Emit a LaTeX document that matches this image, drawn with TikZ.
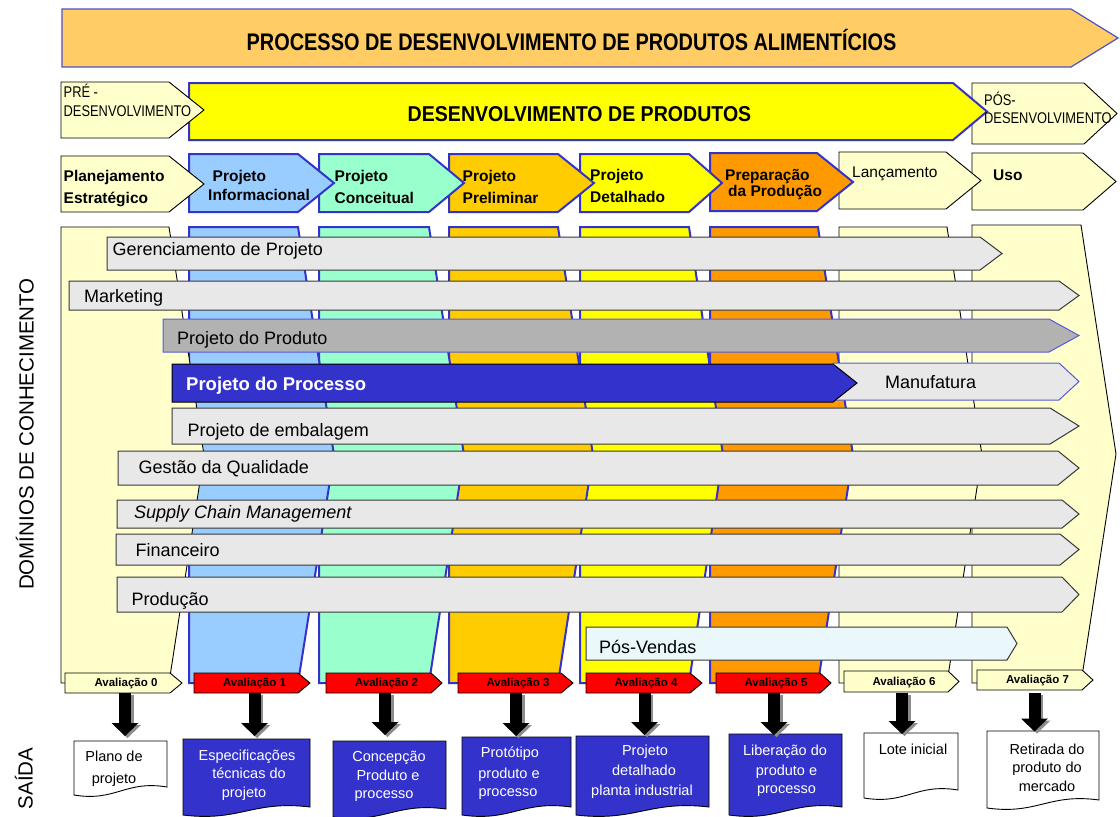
\documentclass[tikz,border=0pt]{standalone}
\usepackage{fontspec}
\setmainfont{Liberation Sans}
\newfontfamily\narrowA[FakeStretch=0.83]{Liberation Sans}
\newfontfamily\narrowB[FakeStretch=0.91]{Liberation Sans}
\usetikzlibrary{arrows.meta}

\definecolor{banner}{HTML}{FFCC66}
\definecolor{bannerbd}{HTML}{5050C8}
\definecolor{pale}{HTML}{FFFFCC}
\definecolor{yel}{HTML}{FFFF00}
\definecolor{sky}{HTML}{99CCFF}
\definecolor{mint}{HTML}{99FFCC}
\definecolor{gold}{HTML}{FFCC00}
\definecolor{orng}{HTML}{FF9900}
\definecolor{bord}{HTML}{3333CC}
\definecolor{barfill}{HTML}{E8E8E8}
\definecolor{prodgray}{HTML}{B2B2B2}
\definecolor{posv}{HTML}{EAF8FC}
\definecolor{bluelite}{HTML}{5858DD}
\definecolor{redtag}{HTML}{FF0000}
\definecolor{bardraw}{HTML}{383838}

% pentagon arrow: style, x left, y top, x body end, x tip, y bottom
\newcommand\penta[6]{\filldraw[#1] (#2,#3) -- (#4,#3) -- (#5,{(#3+#6)/2}) -- (#4,#6) -- (#2,#6) -- cycle;}
% document shape with wavy bottom: style, x left, x right, y top, y bottom (left end)
\newcommand\docshape[5]{\filldraw[#1] (#2,#4) -- (#3,#4) -- (#3,{#5-8}) .. controls ({#2+0.55*(#3-#2)},{#5-15}) and ({#2+0.45*(#3-#2)},{#5+7}) .. (#2,#5) -- cycle;}

\tikzset{
  thinbk/.style={draw=black, line width=0.9pt, line join=miter},
  bluebd/.style={draw=bord, line width=2pt, line join=miter},
  graybar/.style={fill=barfill, draw=bardraw, line width=1pt},
  redbox/.style={fill=redtag, draw=black, line width=0.9pt},
  lab/.style={inner sep=0pt, anchor=base west},
  clab/.style={inner sep=0pt, anchor=base},
  phase/.style={lab, font=\bfseries\fontsize{15.5}{18}\selectfont},
  dom/.style={lab, font=\fontsize{18}{21}\selectfont},
  evalt/.style={clab, font=\bfseries\fontsize{11.5}{13}\selectfont},
  doct/.style={clab, font=\fontsize{14.5}{17}\selectfont},
  side/.style={inner sep=0pt, anchor=base, rotate=90, font=\fontsize{20.5}{24}\selectfont},
  blockarrow/.style={line width=12pt, -{Triangle[width=27pt,length=13pt,line width=0pt]}},
}

\begin{document}
\begin{tikzpicture}[x=1pt, y=-1pt]
\useasboundingbox (0,0) rectangle (1120,817);

% ---- overall banner ----
\penta{fill=banner, draw=bannerbd, line width=1.2pt}{62}{9}{1071}{1118}{67}
\node[clab, font=\narrowA\bfseries\fontsize{24}{28}\selectfont] (title) at (571.5,50) {PROCESSO DE DESENVOLVIMENTO DE PRODUTOS ALIMENTÍCIOS};

% ---- macro phases ----
\penta{fill=pale, thinbk}{972}{83}{1084}{1117}{144}
\penta{fill=yel, bluebd}{189}{83}{953}{987}{140}
\penta{fill=pale, thinbk}{61}{82}{169}{204}{138}
\node[clab, font=\narrowB\bfseries\fontsize{21.5}{25}\selectfont] (dev) at (579.5,121.5) {DESENVOLVIMENTO DE PRODUTOS};
\node[lab, font=\narrowA\fontsize{15.5}{18}\selectfont] (pre1) at (63.5,97.5) {PRÉ -};
\node[lab, font=\narrowA\fontsize{15.5}{18}\selectfont] (pre2) at (63.5,116) {DESENVOLVIMENTO};
\node[lab, font=\narrowA\fontsize{15.5}{18}\selectfont] (pos1) at (984,105) {PÓS-};
\node[lab, font=\narrowA\fontsize{15.5}{18}\selectfont] (pos2) at (984,123) {DESENVOLVIMENTO};

% ---- phases (drawn right to left so each tip overlaps the next box) ----
\penta{fill=pale, thinbk}{972}{153}{1083}{1116}{210}
\penta{fill=pale, thinbk}{839}{152}{946}{981}{209}
\penta{fill=orng, bluebd}{710}{153}{817}{853}{211}
\penta{fill=yel, bluebd}{580}{154}{689}{722}{212}
\penta{fill=gold, bluebd}{449}{154}{558}{594}{212}
\penta{fill=mint, bluebd}{319}{154}{429}{464}{212}
\penta{fill=sky, bluebd}{189}{154}{298}{334}{212}
\penta{fill=pale, thinbk}{61}{156}{169}{204}{212}

\node[phase] (p0a) at (63.5,181) {Planejamento};
\node[phase] (p0b) at (63.5,203.3) {Estratégico};
\node[phase] (p1a) at (212.5,181) {Projeto};
\node[phase] (p1b) at (208,200) {Informacional};
\node[phase] (p2a) at (334.5,181) {Projeto};
\node[phase] (p2b) at (334.5,203) {Conceitual};
\node[phase] (p3a) at (462.5,181) {Projeto};
\node[phase] (p3b) at (462.5,203) {Preliminar};
\node[phase] (p4a) at (590,180) {Projeto};
\node[phase] (p4b) at (590,202.7) {Detalhado};
\node[phase] (p5a) at (725,180) {Preparação};
\node[phase] (p5b) at (728,196.7) {da Produção};
\node[lab, font=\fontsize{15.5}{18}\selectfont] (p6a) at (852,177) {Lançamento};
\node[phase] (p7a) at (993,180) {Uso};

% ---- phase columns ----
\penta{fill=pale, thinbk}{972}{225}{1081}{1116}{683}
\penta{fill=pale, thinbk}{839}{227}{947}{982}{683}
\penta{fill=orng, bluebd}{710}{227}{818}{853}{683}
\penta{fill=yel, bluebd}{580}{227}{689}{723}{683}
\penta{fill=gold, bluebd}{449}{227}{558}{593}{683}
\penta{fill=mint, bluebd}{319}{227}{429}{464}{683}
\penta{fill=sky, bluebd}{189}{227}{298}{334}{683}
\penta{fill=pale, thinbk}{61}{227}{169}{204}{683}

% ---- knowledge domains ----
\penta{graybar}{107}{237}{980}{1002}{270}
\penta{graybar}{69}{281}{1059}{1079}{310}
\penta{fill=prodgray, draw=bluelite, line width=1pt}{163}{319}{1049}{1079}{352}
\penta{fill=barfill, draw=bluelite, line width=1pt}{833}{363}{1059}{1079}{400}
\penta{fill=bord, draw=black, line width=1pt}{172}{364}{833}{857}{402}
\penta{graybar}{172}{408}{1050}{1079}{444}
\penta{graybar}{118}{451}{1058}{1079}{485}
\penta{graybar}{117}{500}{1062}{1079}{528}
\penta{graybar}{116}{534}{1060}{1079}{565}
\penta{graybar}{117}{577}{1062}{1079}{612}
\penta{graybar, fill=posv}{586}{627}{1007}{1017}{660}

\node[dom] (d1) at (112.5,255) {Gerenciamento de Projeto};
\node[dom] (d2) at (84,302.3) {Marketing};
\node[dom] (d3) at (177,344) {Projeto do Produto};
\node[lab, text=white, font=\bfseries\fontsize{18.5}{21}\selectfont] (d4) at (186,390.7) {Projeto do Processo};
\node[dom] (d4b) at (885,388) {Manufatura};
\node[dom] (d5) at (187.5,436) {Projeto de embalagem};
\node[dom] (d6) at (138.5,473) {Gestão da Qualidade};
\node[dom, font=\itshape\fontsize{18}{21}\selectfont] (d7) at (134,518) {Supply Chain Management};
\node[dom] (d8) at (135.5,556) {Financeiro};
\node[dom] (d9) at (131.5,605) {Produção};
\node[dom] (d10) at (599,653) {Pós-Vendas};

% ---- evaluation gates ----
\penta{fill=pale, thinbk}{65}{673}{170}{182}{693}
\penta{redbox}{194}{673}{298}{310}{693}
\penta{redbox}{326}{673}{431}{442}{693}
\penta{redbox}{458}{673}{561}{573}{693}
\penta{redbox}{586}{673}{690}{702}{693}
\penta{redbox}{716}{673}{820}{831}{693}
\penta{fill=pale, thinbk}{844}{671}{948}{959}{692}
\penta{fill=pale, thinbk}{977}{670}{1082}{1093}{690}

\node[evalt] (e0) at (126,686.5) {Avaliação 0};
\node[evalt] (e1) at (254.5,686.5) {Avaliação 1};
\node[evalt] (e2) at (386.5,686.5) {Avaliação 2};
\node[evalt] (e3) at (518,686.5) {Avaliação 3};
\node[evalt] (e4) at (646,686.5) {Avaliação 4};
\node[evalt] (e5) at (776,686.5) {Avaliação 5};
\node[evalt] (e6) at (904,685.5) {Avaliação 6};
\node[evalt] (e7) at (1037.5,683.5) {Avaliação 7};

% ---- outputs ----
\docshape{fill=white, thinbk}{74}{167}{741}{795}
\docshape{fill=bord, thinbk}{183}{310}{739}{815}
\docshape{fill=bord, thinbk}{333}{446}{741}{817}
\docshape{fill=bord, thinbk}{462}{571}{737}{815}
\docshape{fill=bord, thinbk}{576}{709}{736}{815}
\docshape{fill=bord, thinbk}{729}{842}{734}{815}
\docshape{fill=white, thinbk}{864}{958}{733}{798}
\docshape{fill=white, thinbk}{987}{1099}{731}{808}

\node[doct] (o0a) at (114,761.7) {Plano de};
\node[doct] (o0b) at (114,783) {projeto};
\node[doct, text=white] (o1a) at (247,760) {Especificações};
\node[doct, text=white] (o1b) at (249,778.5) {técnicas do};
\node[doct, text=white] (o1c) at (244,797) {projeto};
\node[doct, text=white] (o2a) at (389,761) {Concepção};
\node[doct, text=white] (o2b) at (388,780) {Produto e};
\node[doct, text=white] (o2c) at (384,798) {processo};
\node[doct, text=white] (o3a) at (510,757.5) {Protótipo};
\node[doct, text=white] (o3b) at (509,778) {produto e};
\node[doct, text=white] (o3c) at (508,796.5) {processo};
\node[doct, text=white] (o4a) at (645,755) {Projeto};
\node[doct, text=white] (o4b) at (644,775) {detalhado};
\node[doct, text=white] (o4c) at (642,795.5) {planta industrial};
\node[doct, text=white] (o5a) at (785,755) {Liberação do};
\node[doct, text=white] (o5b) at (786.5,775) {produto e};
\node[doct, text=white] (o5c) at (786.5,793) {processo};
\node[doct] (o6a) at (913,754.3) {Lote inicial};
\node[doct] (o7a) at (1047,754) {Retirada do};
\node[doct] (o7b) at (1047,772.7) {produto do};
\node[doct] (o7c) at (1047,791) {mercado};

% ---- arrows from each gate to its output ----
\foreach \n/\cx/\ty in {0/125/736, 1/254.5/736, 2/385/735, 3/516/736, 4/644.5/735, 5/774/735, 6/902/734, 7/1034.5/731.5}{
  \coordinate (g\n) at (\cx,693);
  \coordinate (t\n) at (\cx,\ty);
  \draw[blockarrow, black!45] ([shift={(2.5,2)}]g\n) -- ([shift={(2.5,2)}]t\n);
  \draw[blockarrow, black] (g\n) -- (t\n);
}

% ---- side labels ----
\node[side] (sideA) at (33.5,434) {DOMÍNIOS DE CONHECIMENTO};
\node[side] (sideB) at (32.5,778.5) {SAÍDA};
\end{tikzpicture}
\end{document}
